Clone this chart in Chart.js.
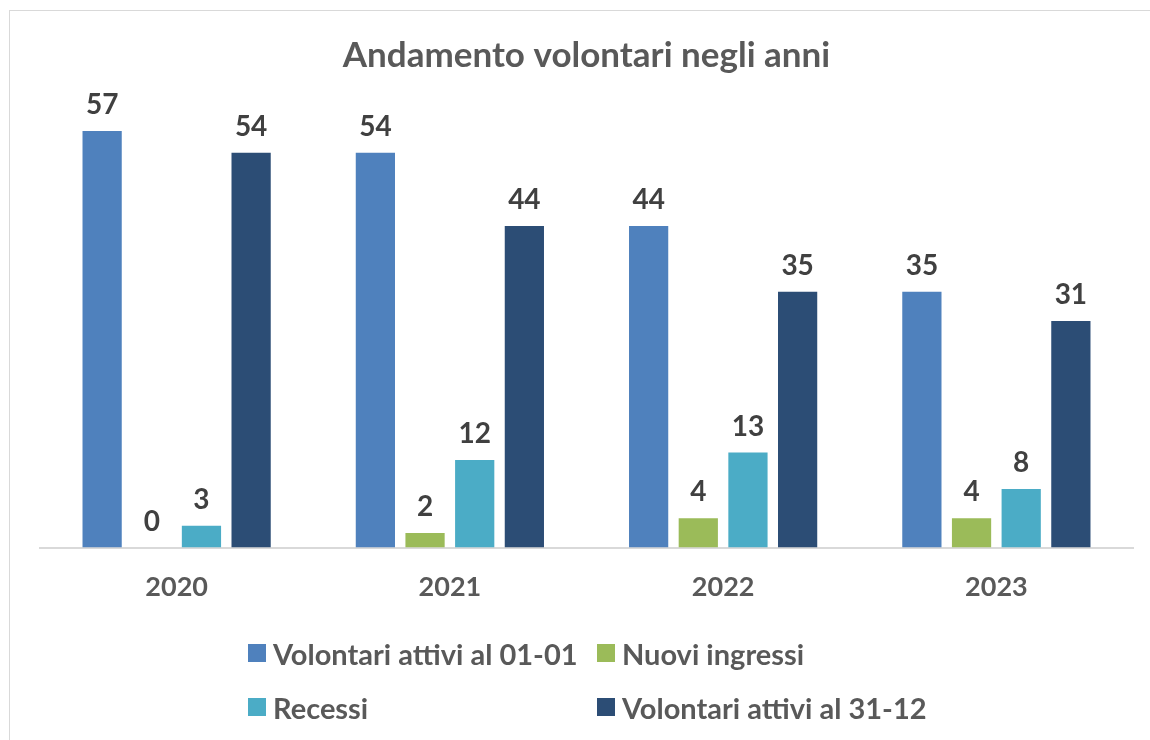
<!DOCTYPE html>
<html>
<head>
<meta charset="utf-8">
<script src="https://cdn.jsdelivr.net/npm/chart.js@4"></script>
<style>
  html, body { margin: 0; padding: 0; background: #fff; }
  body { width: 1150px; height: 740px; position: relative; overflow: hidden; font-family: Lato, "Liberation Sans", sans-serif; }
  #frame { position: absolute; left: 9px; top: 10px; width: 1160px; height: 800px; border: 1px solid #d9d9d9; box-sizing: border-box; }
  #wrap { position: absolute; left: 0; top: 0; width: 1150px; height: 740px; }
  #legend { position: absolute; left: 248px; top: 637px; display: grid; grid-template-columns: 349px auto; row-gap: 22px; }
  .item { display: flex; align-items: center; font-weight: bold; font-size: 29px; color: #595959; height: 32px; white-space: nowrap; }
  .sw { width: 18px; height: 18px; margin-right: 7px; flex: none; }
</style>
</head>
<body>
<div id="frame"></div>
<div id="wrap"><canvas id="volontari" width="1150" height="740"></canvas></div>
<div id="legend"></div>
<script>
var anni = ["2020", "2021", "2022", "2023"];
var attiviInizio = [57, 54, 44, 35];
var nuoviIngressi = [0, 2, 4, 4];
var recessi = [3, 12, 13, 8];
var attiviFine = [54, 44, 35, 31];
var nomiSerie = ["Volontari attivi al 01-01", "Nuovi ingressi", "Recessi", "Volontari attivi al 31-12"];
var coloriSerie = ["#4f81bd", "#9bbb59", "#4bacc6", "#2c4d75"];

// etichette valore sopra le barre
var valueLabels = {
    id: 'valueLabels',
    afterDatasetsDraw: function(chart) {
        var ctx = chart.ctx;
        ctx.save();
        ctx.font = 'bold 28px Lato, "Liberation Sans", sans-serif';
        ctx.fillStyle = '#404040';
        ctx.textAlign = 'center';
        ctx.textBaseline = 'alphabetic';
        chart.data.datasets.forEach(function(ds, i) {
            chart.getDatasetMeta(i).data.forEach(function(bar, j) {
                ctx.fillText(ds.data[j], bar.x, bar.y - 17);
            });
        });
        ctx.restore();
    }
};

var valori = [attiviInizio, nuoviIngressi, recessi, attiviFine];

var ctx = document.getElementById('volontari').getContext('2d');
var chart = new Chart(ctx, {
    type: 'bar',
    data: {
        labels: anni,
        datasets: valori.map(function(v, i) {
            return {
                label: nomiSerie[i],
                data: v,
                backgroundColor: coloriSerie[i],
                categoryPercentage: 0.727,
                barPercentage: 0.79
            };
        })
    },
    options: {
        responsive: false,
        animation: false,
        layout: { padding: { top: 0, left: 40, right: 17, bottom: 114 } },
        plugins: {
            legend: { display: false },
            tooltip: { enabled: false },
            title: {
                display: true,
                text: 'Andamento volontari negli anni',
                color: '#595959',
                font: { family: 'Lato, "Liberation Sans", sans-serif', size: 35, weight: 'bold' },
                padding: { top: 35, bottom: 32 }
            }
        },
        scales: {
            x: {
                grid: { display: false, drawTicks: false },
                border: { display: true, color: '#d9d9d9', width: 2 },
                ticks: {
                    color: '#595959',
                    padding: 23,
                    font: { family: 'Lato, "Liberation Sans", sans-serif', size: 27, weight: 'bold' }
                }
            },
            y: { display: false, min: 0, max: 60 }
        }
    },
    plugins: [valueLabels]
});

// legenda a griglia (due colonne)
var leg = document.getElementById('legend');
nomiSerie.forEach(function(nome, i) {
    var d = document.createElement('div');
    d.className = 'item';
    d.innerHTML = '<span class="sw" style="background:' + coloriSerie[i] + '"></span>' + nome;
    leg.appendChild(d);
});
</script>
</body>
</html>
